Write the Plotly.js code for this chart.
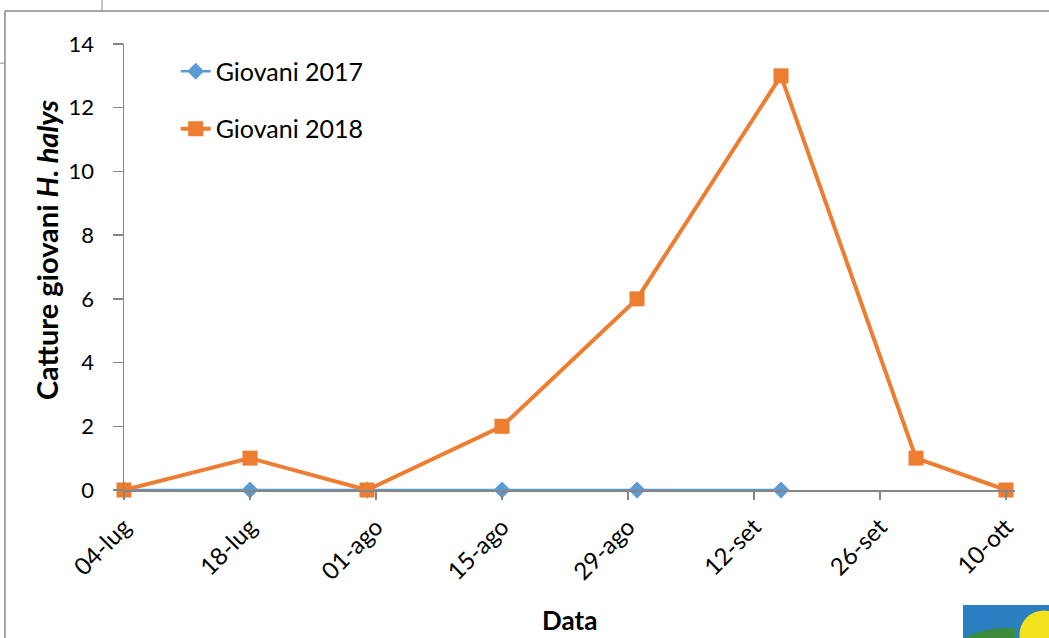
<!DOCTYPE html>
<html>
<head>
<meta charset="utf-8">
<script src="https://cdn.plot.ly/plotly-3.0.1.min.js"></script>
<style>html,body{margin:0;padding:0;background:#fff;}#chart{width:1049px;height:638px;}</style>
</head>
<body>
<div id="chart"></div>
<script>
// Data (all plotted on a common reference year for the day-month axis)
const dates2017 = ["2018-07-04","2018-07-18","2018-07-31","2018-08-15","2018-08-30","2018-09-15"];
const values2017 = [0, 0, 0, 0, 0, 0];
const dates2018 = ["2018-07-04","2018-07-18","2018-07-31","2018-08-15","2018-08-30","2018-09-15","2018-09-30","2018-10-10"];
const values2018 = [0, 1, 0, 2, 6, 13, 1, 0];
const tickDates = ["2018-07-04","2018-07-18","2018-08-01","2018-08-15","2018-08-29","2018-09-12","2018-09-26","2018-10-10"];
const tickLabels = ["04-lug","18-lug","01-ago","15-ago","29-ago","12-set","26-set","10-ott"];
const seriesNames = ["Giovani 2017","Giovani 2018"];
const xTitle = "Data";
const yTitle = "<b>Catture giovani <i>H. halys</i></b>";

const FONT = "Lato, 'Open Sans', sans-serif";
const AXIS = "#868686";

const traces = [
  {x: dates2017, y: values2017, name: seriesNames[0], type: "scatter", mode: "lines+markers",
   legendgroup: "a", line: {color: "#5B9BD5", width: 2.5},
   marker: {symbol: "diamond", size: 13, color: "#5B9BD5"}, cliponaxis: false},
  {x: dates2018, y: values2018, name: seriesNames[1], type: "scatter", mode: "lines+markers",
   legendgroup: "b", line: {color: "#ED7D31", width: 4},
   marker: {symbol: "square", size: 15, color: "#ED7D31"}, cliponaxis: false}
];

const layout = {
  width: 1049, height: 638,
  margin: {l: 124, r: 34, t: 44, b: 148},
  paper_bgcolor: "#fff", plot_bgcolor: "#fff",
  font: {family: FONT, color: "#000", size: 22},
  showlegend: true,
  legend: {x: 0.058, y: 0.99, xanchor: "left", yanchor: "top",
           font: {family: FONT, size: 25, color: "#000"}, tracegroupgap: 22,
           bgcolor: "rgba(0,0,0,0)"},
  xaxis: {
    type: "date", range: ["2018-07-04", "2018-10-11"],
    tickvals: tickDates, ticktext: tickLabels, tickangle: -45,
    showgrid: false, zeroline: false, showline: true, linecolor: AXIS, linewidth: 1.5,
    ticks: "outside", ticklen: 8, tickcolor: AXIS, tickwidth: 1.5,
    ticklabelstandoff: 4,
    tickfont: {family: FONT, size: 24, color: "#000"}
  },
  yaxis: {
    range: [0, 14], tickvals: [0,2,4,6,8,10,12,14],
    showgrid: false, zeroline: false, showline: true, linecolor: AXIS, linewidth: 1.5,
    ticks: "outside", ticklen: 10, tickcolor: AXIS, tickwidth: 1.5,
    ticklabelstandoff: 14,
    tickfont: {family: FONT, size: 22, color: "#000"}
  },
  annotations: [
    {text: "<b>" + xTitle + "</b>", xref: "paper", yref: "paper", x: 0.5, y: -0.291,
     xanchor: "center", yanchor: "middle", showarrow: false, font: {family: FONT, size: 26, color: "#000"}},
    {text: yTitle, xref: "paper", yref: "paper", x: -0.0875, y: 0.538, textangle: -90,
     xanchor: "center", yanchor: "middle", showarrow: false, font: {family: FONT, size: 29, color: "#000"}}
  ],
  shapes: [
    // surrounding slide frame
    {type: "line", xref: "paper", yref: "paper", x0: -0.1336, x1: 1.04, y0: 1.074, y1: 1.074, line: {color: "#8a8a8a", width: 1.5}},
    {type: "line", xref: "paper", yref: "paper", x0: -0.1336, x1: -0.1336, y0: 1.074, y1: -0.34, line: {color: "#8a8a8a", width: 1.5}},
    {type: "line", xref: "paper", yref: "paper", x0: -0.0247, x1: -0.0247, y0: 1.1, y1: 1.074, line: {color: "#8a8a8a", width: 1}},
    {type: "line", xref: "paper", yref: "paper", x0: -0.14, x1: -0.1336, y0: 0.957, y1: 0.957, line: {color: "#8a8a8a", width: 1}},
    // logo fragment bottom right
    {type: "rect", xref: "paper", yref: "paper", x0: 0.9416, x1: 1.04, y0: -0.258, y1: -0.34, line: {width: 0}, fillcolor: "#2a7fc0"},
    {type: "circle", xref: "paper", yref: "paper", x0: 1.005, x1: 1.06, y0: -0.27, y1: -0.38, line: {width: 0}, fillcolor: "#f2e21b"},
    {type: "path", xref: "paper", yref: "paper", path: "M 0.944 -0.332 Q 0.965 -0.305 1.0 -0.31 L 1.0 -0.34 L 0.944 -0.34 Z", line: {width: 0}, fillcolor: "#3c8a3c"}
  ]
};

Plotly.newPlot("chart", traces, layout, {displayModeBar: false, staticPlot: true});
</script>
</body>
</html>
